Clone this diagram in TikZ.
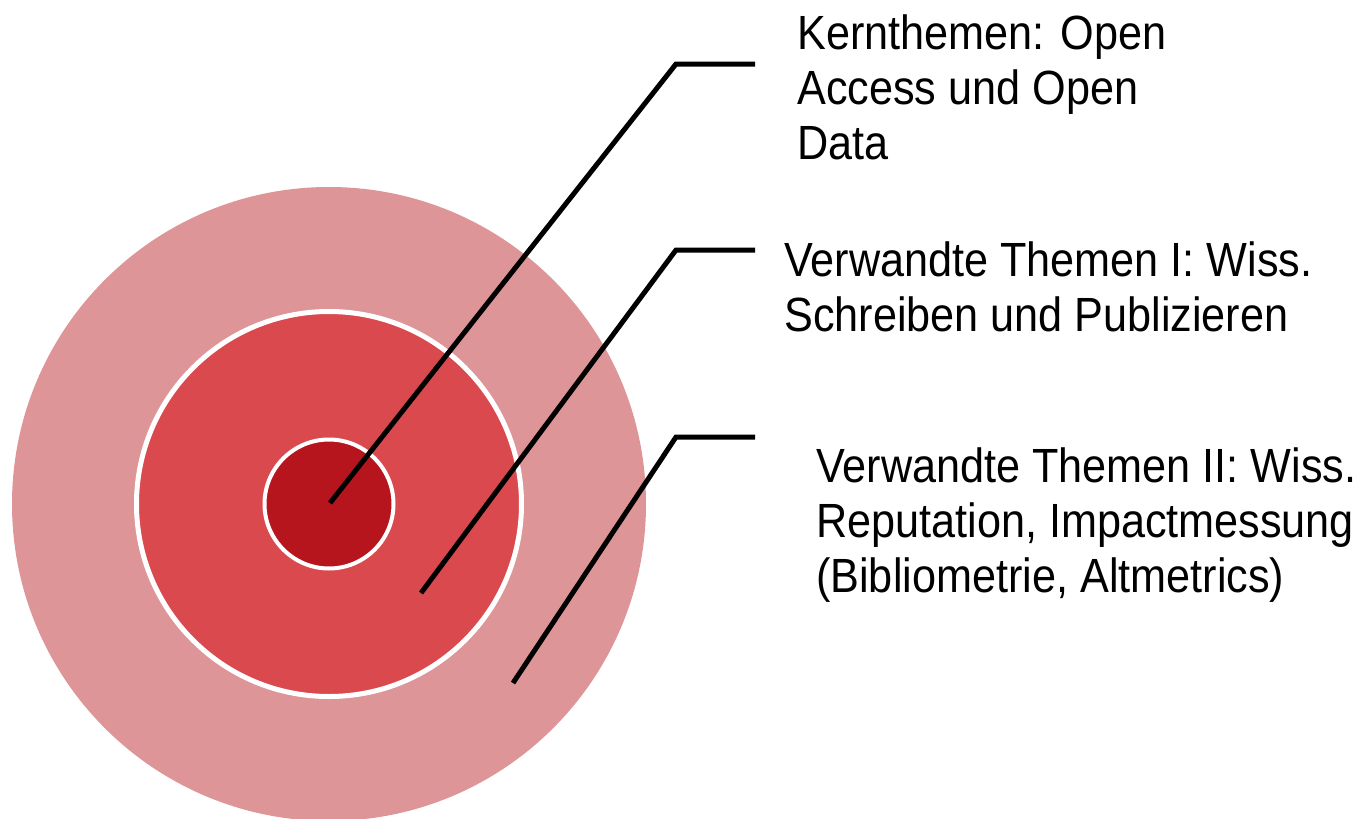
\documentclass[tikz,border=0pt]{standalone}
\usepackage{fontspec}
\setmainfont{Liberation Sans}[FakeStretch=0.9]
\definecolor{ringouter}{RGB}{222,149,151}
\definecolor{ringmid}{RGB}{218,73,78}
\definecolor{ringcore}{RGB}{183,21,29}
\tikzset{
  ring/.style={circle, inner sep=0pt, outer sep=0pt},
  leader/.style={draw=black, line width=5pt},
  % base anchor of a multi-line label sits on its last line
  lbl/.style={anchor=base west, inner sep=0pt, align=left,
    font=\fontsize{48}{55}\selectfont}
}
\begin{document}
\begin{tikzpicture}[x=1pt,y=-1pt]
\useasboundingbox (0,0) rectangle (1369,819);
\clip (0,0) rectangle (1369,819);
% concentric rings
\node[ring, fill=ringouter, minimum size=634pt] (outer) at (329,504) {};
\node[ring, fill=ringmid, draw=white, line width=5pt, minimum size=385pt] (mid) at (329,504) {};
\node[ring, fill=ringcore, draw=white, line width=4pt, minimum size=129pt] (core) at (329,504) {};
% leader line anchors
\coordinate (p1) at (330,503);
\coordinate (k1) at (676,64);
\coordinate (e1) at (755,64);
\coordinate (p2) at (421,593);
\coordinate (k2) at (676,250);
\coordinate (e2) at (755,250);
\coordinate (p3) at (513,683);
\coordinate (k3) at (676,437);
\coordinate (e3) at (755,437);
% labels
\node[lbl] (t1) at (797,159) {Kernthemen: Open\\Access und Open\\Data};
\node[lbl] (t2) at (784,331) {Verwandte Themen I: Wiss.\\Schreiben und Publizieren};
\node[lbl] (t3) at (816,592) {Verwandte Themen II: Wiss.\\Reputation, Impactmessung\\(Bibliometrie, Altmetrics)};
% leaders
\draw[leader] (p1) -- (k1) -- (e1);
\draw[leader] (p2) -- (k2) -- (e2);
\draw[leader] (p3) -- (k3) -- (e3);
\end{tikzpicture}
\end{document}
